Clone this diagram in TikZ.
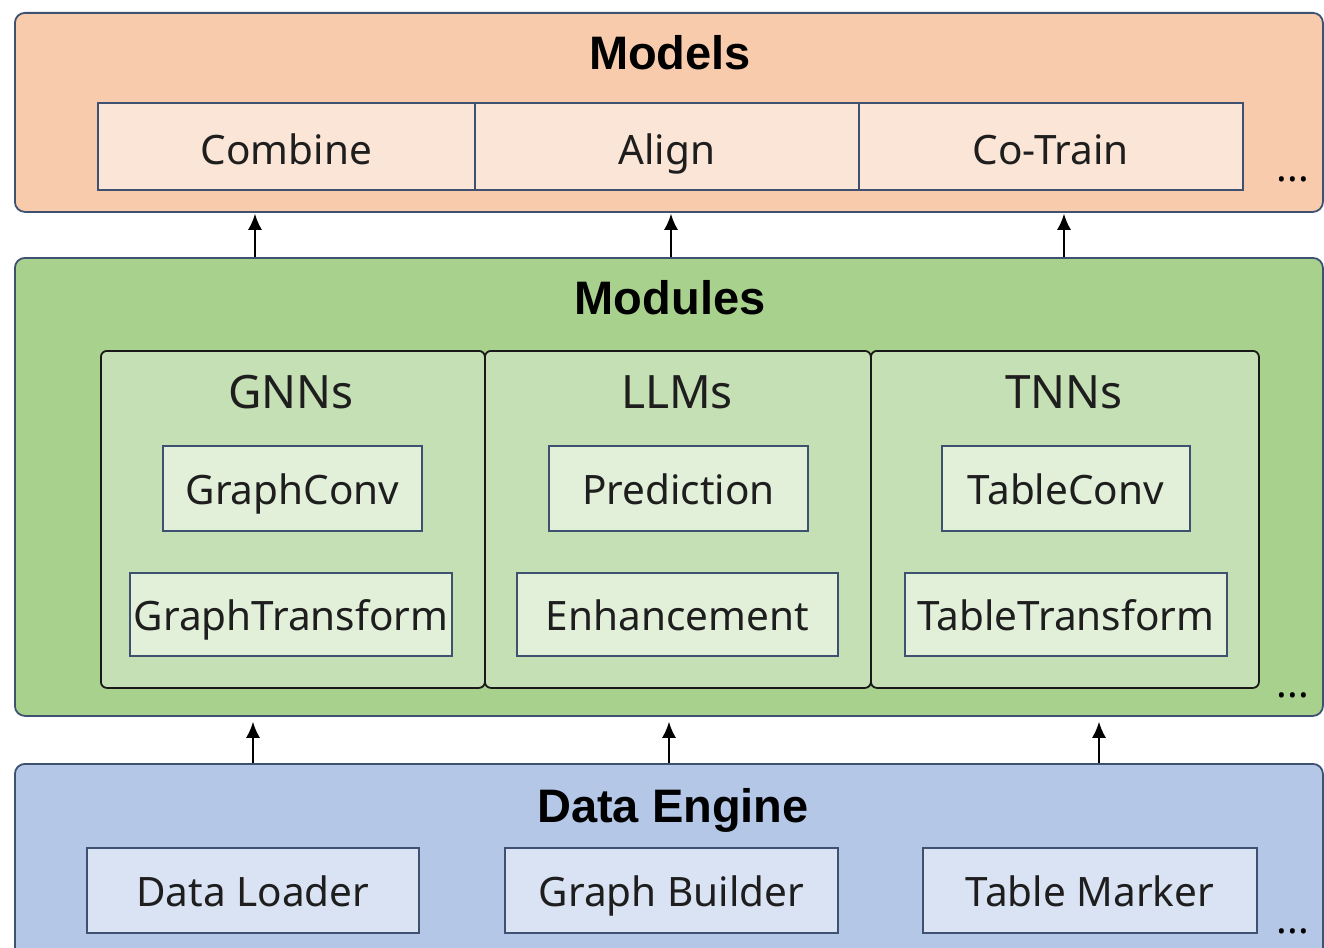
\documentclass[tikz,border=0pt]{standalone}
\usepackage{fontspec}
\setmainfont{Noto Sans}
\newfontfamily\ttlfont{Liberation Sans}
\usetikzlibrary{arrows.meta}
\definecolor{edgeblue}{HTML}{3E5170}
\definecolor{txt}{HTML}{1E1E1E}
\definecolor{orangeO}{HTML}{F8CBAD}
\definecolor{orangeI}{HTML}{FBE5D6}
\definecolor{greenO}{HTML}{A9D18E}
\definecolor{greenM}{HTML}{C5E0B4}
\definecolor{greenI}{HTML}{E2F0D9}
\definecolor{blueO}{HTML}{B4C7E7}
\definecolor{blueI}{HTML}{DAE3F3}
\begin{document}
\begin{tikzpicture}[x=1pt,y=-1pt,
  layer/.style={draw=edgeblue, line width=1.8pt, rounded corners=10pt, anchor=north west, inner sep=0pt},
  group/.style={draw=black!90, line width=1.8pt, rounded corners=6pt, fill=greenM, anchor=north west, inner sep=0pt},
  item/.style={draw=edgeblue, line width=1.8pt, anchor=north west, inner sep=0pt},
  lbl/.style={text=txt, font=\fontsize{40.5}{44}\selectfont, anchor=base, inner sep=0pt},
  ttl/.style={font=\ttlfont\fontsize{47}{50}\selectfont\bfseries, text=black, anchor=base, inner sep=0pt},
  gttl/.style={font=\fontsize{46}{50}\selectfont, text=txt, anchor=base, inner sep=0pt},
  dots/.style={font=\fontsize{40}{40}\selectfont, text=black, anchor=base, inner sep=0pt},
  arr/.style={-{Latex[length=16pt,width=14pt]}, line width=1.8pt, black}]
\clip (0,0) rectangle (1324,947);
\fill[white] (0,0) rectangle (1324,947);

% Models
\node[layer, fill=orangeO, minimum width=1308pt, minimum height=199pt] (models) at (14,12) {};
\node[ttl] (modelsT) at (670,70) {Models};
\node[item, fill=orangeI, minimum width=377pt, minimum height=87pt] (combine) at (97,102) {};
\node[item, fill=orangeI, minimum width=384pt, minimum height=87pt] (align) at (474,102) {};
\node[item, fill=orangeI, minimum width=384pt, minimum height=87pt] (cotrain) at (858,102) {};
\node[lbl] (combineT) at ([yshift=-18pt]combine.center) {Combine};
\node[lbl] (alignT) at ([yshift=-18pt]align.center) {Align};
\node[lbl] (cotrainT) at ([yshift=-18pt]cotrain.center) {Co-Train};
\node[dots] (d1) at (1293,181) {...};

% Modules
\node[layer, fill=greenO, minimum width=1308pt, minimum height=458pt] (modules) at (14,257) {};
\node[ttl] (modulesT) at (670,314) {Modules};
\node[group, minimum width=384pt, minimum height=337pt] (gnn) at (100,350) {};
\node[group, minimum width=386pt, minimum height=337pt] (llm) at (484,350) {};
\node[group, minimum width=388pt, minimum height=337pt] (tnn) at (870,350) {};
\node[gttl] (gnnT) at (291,408) {GNNs};
\node[gttl] (llmT) at (677,408) {LLMs};
\node[gttl] (tnnT) at (1064,408) {TNNs};
\node[item, fill=greenI, minimum width=259pt, minimum height=85pt] (gconv) at (162,445) {};
\node[item, fill=greenI, minimum width=322pt, minimum height=83pt] (gtrans) at (129,572) {};
\node[item, fill=greenI, minimum width=259pt, minimum height=85pt] (pred) at (548,445) {};
\node[item, fill=greenI, minimum width=321pt, minimum height=83pt] (enh) at (516,572) {};
\node[item, fill=greenI, minimum width=248pt, minimum height=85pt] (tconv) at (941,445) {};
\node[item, fill=greenI, minimum width=322pt, minimum height=83pt] (ttrans) at (904,572) {};
\node[lbl] (gconvT) at ([yshift=-16.5pt]gconv.center) {GraphConv};
\node[lbl] (gtransT) at ([yshift=-16.5pt]gtrans.center) {GraphTransform};
\node[lbl] (predT) at ([yshift=-16.5pt]pred.center) {Prediction};
\node[lbl] (enhT) at ([yshift=-16.5pt]enh.center) {Enhancement};
\node[lbl] (tconvT) at ([yshift=-16.5pt]tconv.center) {TableConv};
\node[lbl] (ttransT) at ([yshift=-16.5pt]ttrans.center) {TableTransform};
\node[dots] (d2) at (1293,697) {...};

% Data Engine
\node[layer, fill=blueO, minimum width=1308pt, minimum height=220pt] (data) at (14,763) {};
\node[ttl] (dataT) at (673,822) {Data Engine};
\node[item, fill=blueI, minimum width=332pt, minimum height=85pt] (loader) at (86,847) {};
\node[item, fill=blueI, minimum width=333pt, minimum height=85pt] (builder) at (504,847) {};
\node[item, fill=blueI, minimum width=334pt, minimum height=85pt] (marker) at (922,847) {};
\node[lbl] (loaderT) at ([yshift=-16.5pt]loader.center) {Data Loader};
\node[lbl] (builderT) at ([yshift=-16.5pt]builder.center) {Graph Builder};
\node[lbl] (markerT) at ([yshift=-16.5pt]marker.center) {Table Marker};
\node[dots] (d3) at (1293,933) {...};

% arrows
\coordinate (a1) at (255,0);
\coordinate (a2) at (671,0);
\coordinate (a3) at (1064,0);
\coordinate (b1) at (253,0);
\coordinate (b2) at (669,0);
\coordinate (b3) at (1099,0);
\draw[arr] (a1 |- modules.north) -- ([yshift=-1pt]a1 |- models.south);
\draw[arr] (a2 |- modules.north) -- ([yshift=-1pt]a2 |- models.south);
\draw[arr] (a3 |- modules.north) -- ([yshift=-1pt]a3 |- models.south);
\draw[arr] (b1 |- data.north) -- ([yshift=-5pt]b1 |- modules.south);
\draw[arr] (b2 |- data.north) -- ([yshift=-5pt]b2 |- modules.south);
\draw[arr] (b3 |- data.north) -- ([yshift=-5pt]b3 |- modules.south);
\end{tikzpicture}
\end{document}
